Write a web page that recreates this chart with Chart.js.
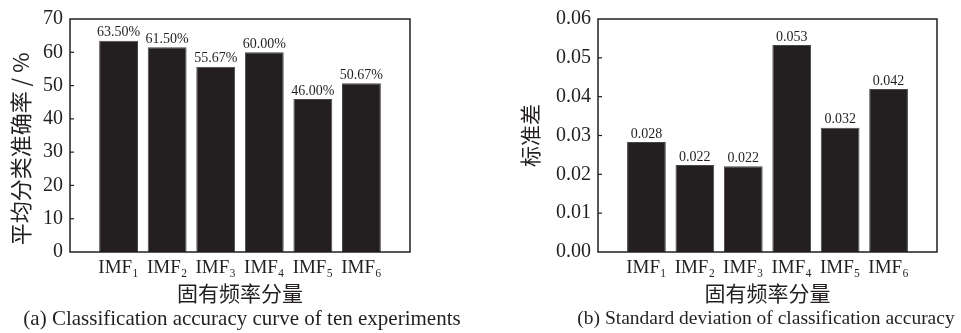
<!DOCTYPE html>
<html>
<head>
<meta charset="utf-8">
<script src="https://cdn.jsdelivr.net/npm/chart.js@4"></script>
<style>
  body { margin: 0; background: #fff; overflow: hidden; }
  .box { position: absolute; top: 0; height: 333px; }
  .caption {
    position: absolute; top: 306px; width: 480px; margin-left: -240px;
    text-align: center; white-space: nowrap;
    font: 21px/24px 'Liberation Serif', 'Times New Roman', serif; color: #231f20;
  }
</style>
</head>
<body>
<div class="box" style="left:0;width:480px"><canvas id="accChart"></canvas></div>
<div class="box" style="left:480px;width:481px"><canvas id="stdChart"></canvas></div>
<div class="caption" style="left:242px">(a) Classification accuracy curve of ten experiments</div>
<div class="caption" style="left:766px;font-size:19.5px">(b) Standard deviation of classification accuracy</div>
<script>
const categories = ['IMF₁', 'IMF₂', 'IMF₃', 'IMF₄', 'IMF₅', 'IMF₆'];
const accuracy = [63.5, 61.5, 55.67, 60.0, 46.0, 50.67];
const stdDev = [0.0283, 0.0224, 0.0221, 0.0533, 0.0320, 0.0420];
const accTicks = [0, 10, 20, 30, 40, 50, 60, 70];
const stdTicks = [0, 0.01, 0.02, 0.03, 0.04, 0.05, 0.06];

const INK = '#231f20';
const SERIF = "'Liberation Serif', 'Times New Roman', 'Noto Sans CJK SC', serif";
const CJK = "'Noto Sans CJK SC', 'Liberation Serif', sans-serif";

Chart.defaults.color = INK;
Chart.defaults.font.family = SERIF;

// frame around the plot + small inward ticks on the y axis
const framePlugin = {
    id: 'frame',
    afterDraw(chart) {
        const { ctx, chartArea: a } = chart;
        const y = chart.scales.y;
        ctx.save();
        ctx.strokeStyle = INK;
        ctx.lineWidth = 1.5;
        ctx.strokeRect(a.left, a.top, a.right - a.left, a.bottom - a.top);
        ctx.lineWidth = 1.2;
        y.ticks.forEach(t => {
            const py = y.getPixelForValue(t.value);
            if (Math.abs(py - a.top) < 1 || Math.abs(py - a.bottom) < 1) return;
            ctx.beginPath();
            ctx.moveTo(a.left, py);
            ctx.lineTo(a.left + 4, py);
            ctx.stroke();
        });
        ctx.restore();
    }
};

// value labels on top of each bar
const valueLabels = {
    id: 'valueLabels',
    afterDatasetsDraw(chart, args, opts) {
        const { ctx } = chart;
        const meta = chart.getDatasetMeta(0);
        const vals = chart.data.datasets[0].data;
        ctx.save();
        ctx.font = '14px ' + SERIF;
        ctx.fillStyle = INK;
        ctx.textAlign = 'center';
        ctx.textBaseline = 'bottom';
        meta.data.forEach((bar, i) => {
            ctx.fillText(opts.format(vals[i].y), bar.x, bar.y - 1);
        });
        ctx.restore();
    }
};

function makeChart(id, values, ticks, yTitle, yTitleSize, fmtTick, fmtLabel, axisWidth, titlePad, rightPad) {
    const points = values.map((v, i) => ({ x: i + 1, y: v }));
    return new Chart(document.getElementById(id), {
        type: 'bar',
        data: {
            datasets: [{
                data: points,
                backgroundColor: INK,
                borderColor: '#4a4647',
                borderWidth: 1,
                categoryPercentage: 1,
                barPercentage: 0.8
            }]
        },
        plugins: [framePlugin, valueLabels],
        options: {
            responsive: true,
            maintainAspectRatio: false,
            animation: false,
            layout: { padding: { left: 0, right: rightPad, top: 14, bottom: 27 } },
            plugins: {
                legend: { display: false },
                tooltip: { enabled: false },
                valueLabels: { format: fmtLabel }
            },
            scales: {
                x: {
                    type: 'linear',
                    min: 0,
                    max: categories.length + 1,
                    offset: false,
                    grid: { display: false, drawTicks: false },
                    border: { display: false },
                    afterBuildTicks: s => { s.ticks = categories.map((c, i) => ({ value: i + 1 })); },
                    afterFit: s => { s.height = 54; },
                    ticks: {
                        autoSkip: false,
                        maxRotation: 0,
                        padding: 5,
                        font: { size: 19 },
                        callback: v => categories[v - 1] || ''
                    },
                    title: {
                        display: true,
                        text: '固有频率分量',
                        font: { family: CJK, size: 21, lineHeight: 1.2 },
                        padding: { top: 0, bottom: 0 }
                    }
                },
                y: {
                    min: ticks[0],
                    max: ticks[ticks.length - 1],
                    grid: { display: false, drawTicks: false },
                    border: { display: false },
                    afterBuildTicks: s => { s.ticks = ticks.map(v => ({ value: v })); },
                    afterFit: s => { s.width = axisWidth; },
                    ticks: {
                        padding: 7,
                        font: { size: 20 },
                        callback: fmtTick
                    },
                    title: {
                        display: true,
                        text: yTitle,
                        font: { family: CJK, size: yTitleSize, lineHeight: 1.2 },
                        padding: { top: titlePad, bottom: 0 }
                    }
                }
            }
        }
    });
}

makeChart('accChart', accuracy, accTicks, '平均分类准确率 / %　 ', 22,
    v => String(v), v => v.toFixed(2) + '%', 70, 7, 70);

makeChart('stdChart', stdDev, stdTicks, '标准差', 21,
    v => v.toFixed(2), v => v.toFixed(3), 118, 37, 24);
</script>
</body>
</html>
